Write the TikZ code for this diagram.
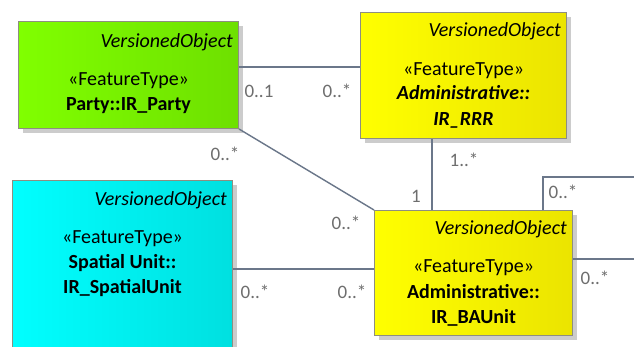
\documentclass[tikz,border=0pt]{standalone}
\usepackage{fontspec}
\setmainfont{Carlito}
\usetikzlibrary{shadows}
\definecolor{edgec}{HTML}{6B778A}
\definecolor{labc}{HTML}{6E6E6E}
\definecolor{boxb}{HTML}{8E8E80}
\definecolor{gl}{HTML}{80FF00}
\definecolor{gr}{HTML}{6EE000}
\definecolor{yl}{HTML}{FFFF00}
\definecolor{yr}{HTML}{EBE400}
\definecolor{cl}{HTML}{00FFFF}
\definecolor{cr}{HTML}{00E0E0}
\tikzset{
  umlbox/.style={draw=boxb, line width=1pt, rectangle, anchor=north west, inner sep=0pt,
    drop shadow={opacity=1, fill=black!20, shadow xshift=4pt, shadow yshift=-4pt}},
  greenbox/.style={umlbox, left color=gl, right color=gr},
  yellowbox/.style={umlbox, left color=yl, right color=yr},
  cyanbox/.style={umlbox, left color=cl, right color=cr},
  votext/.style={font=\fontsize{20}{20}\selectfont\itshape, anchor=base east, inner sep=0pt},
  sttext/.style={font=\fontsize{20}{20}\selectfont, anchor=base, inner sep=0pt},
  nmtext/.style={font=\fontsize{20}{20}\selectfont\bfseries, anchor=base, inner sep=0pt},
  nmitext/.style={font=\fontsize{20}{20}\selectfont\bfseries\itshape, anchor=base, inner sep=0pt},
  conn/.style={draw=edgec, line width=1.4pt},
  mult/.style={text=labc, font=\fontsize{19}{19}\selectfont, inner sep=0pt},
}
\begin{document}
\begin{tikzpicture}[x=1pt,y=-1pt]
\clip (0,0) rectangle (634,346);
\fill[white] (0,0) rectangle (634,346);
% boxes
\node[greenbox, minimum width=220pt, minimum height=107pt] (party) at (18,21) {};
\node[yellowbox, minimum width=206pt, minimum height=126pt] (rrr) at (360,12) {};
\node[cyanbox, minimum width=220pt, minimum height=190pt] (spatial) at (12,180) {};
\node[yellowbox, minimum width=198pt, minimum height=125pt] (bau) at (374,210) {};
% texts party
\node[votext] (partyvo) at ([xshift=-6pt,yshift=-26pt]party.north east) {VersionedObject};
\node[sttext] (partyst) at ([yshift=-64pt]party.north) {«FeatureType»};
\node[nmtext] (partynm) at ([yshift=-89pt]party.north) {Party::IR\_Party};
% texts rrr
\node[votext] (rrrvo) at ([xshift=-6pt,yshift=-24pt]rrr.north east) {VersionedObject};
\node[sttext] (rrrst) at ([yshift=-63pt]rrr.north) {«FeatureType»};
\node[nmitext] (rrrnm1) at ([yshift=-87pt]rrr.north) {Administrative::};
\node[nmitext] (rrrnm2) at ([yshift=-113pt]rrr.north) {IR\_RRR};
% texts spatial
\node[votext] (spvo) at ([xshift=-6pt,yshift=-25pt]spatial.north east) {VersionedObject};
\node[sttext] (spst) at ([yshift=-63pt]spatial.north) {«FeatureType»};
\node[nmtext] (spnm1) at ([yshift=-88pt]spatial.north) {Spatial Unit::};
\node[nmtext] (spnm2) at ([yshift=-113pt]spatial.north) {IR\_SpatialUnit};
% texts bau
\node[votext] (bauvo) at ([xshift=-6pt,yshift=-24pt]bau.north east) {VersionedObject};
\node[sttext] (baust) at ([yshift=-62pt]bau.north) {«FeatureType»};
\node[nmtext] (baunm1) at ([yshift=-88pt]bau.north) {Administrative::};
\node[nmtext] (baunm2) at ([yshift=-113pt]bau.north) {IR\_BAUnit};
% connectors
\draw[conn] (party.east |- 0,67) -- (rrr.west |- 0,67);
\draw[conn] (party.south east) -- (bau.north west);
\draw[conn] (rrr.south -| 432,0) -- (bau.north -| 432,0);
\draw[conn] (spatial.east |- 0,269) -- (bau.west |- 0,269);
\coordinate (loopa) at (640,177);
\coordinate (loopb) at (640,259);
\draw[conn] (bau.north -| 543,0) |- (loopa);
\draw[conn] (bau.east |- 0,259) -- (loopb);
% multiplicities
\node[mult] (m1) at (259,91) {0..1};
\node[mult] (m2) at (337,91) {0..*};
\node[mult] (m3) at (225,154) {0..*};
\node[mult] (m4) at (464,160) {1..*};
\node[mult] (m5) at (416,196) {1};
\node[mult] (m6) at (346,223) {0..*};
\node[mult] (m7) at (255,292) {0..*};
\node[mult] (m8) at (352,292) {0..*};
\node[mult] (m9) at (563,192) {0..*};
\node[mult] (m10) at (595,278) {0..*};
\end{tikzpicture}
\end{document}
